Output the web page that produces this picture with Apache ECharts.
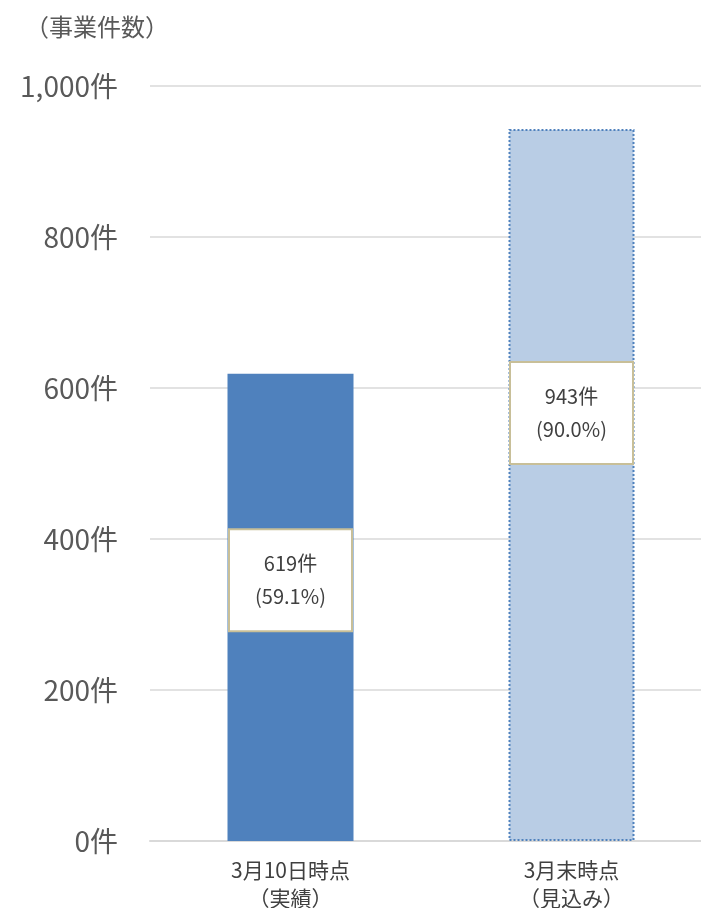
<!DOCTYPE html>
<html><head><meta charset="utf-8">
<script src="https://cdn.jsdelivr.net/npm/echarts@6/dist/echarts.min.js"></script>
<style>html,body{margin:0;padding:0;background:#fff}#c{width:701px;height:908px}</style>
</head><body><div id="c"></div>
<script>
var categories = ['3月10日時点\n（実績）', '3月末時点\n（見込み）'];
var values = [619, 943];
var percents = ['59.1%', '90.0%'];
var yTicks = [0, 200, 400, 600, 800, 1000];

var FONT = '"Noto Sans CJK JP", "Noto Sans", sans-serif';
var chart = echarts.init(document.getElementById('c'), null, {renderer: 'canvas'});
var labelOffsets = [[0, -27], [0, -72]];
var styles = [
  {color: '#4F81BD'},
  {color: '#B9CDE5', borderColor: '#4F81BD', borderWidth: 2, borderType: [2, 2]}
];
chart.setOption({
  animation: false,
  textStyle: {fontFamily: FONT},
  title: {
    text: '（事業件数）', left: 20, top: 10,
    textStyle: {fontSize: 24, fontWeight: 'normal', color: '#595959', fontFamily: FONT}
  },
  grid: {left: 150, top: 86, width: 562, height: 755, containLabel: false, outerBoundsMode: 'none'},
  xAxis: {
    type: 'category', data: categories,
    axisLine: {lineStyle: {color: '#D9D9D9', width: 2}},
    axisTick: {show: false},
    axisLabel: {color: '#404040', fontSize: 21, lineHeight: 28, margin: 15, fontFamily: FONT}
  },
  yAxis: {
    type: 'value', min: yTicks[0], max: yTicks[yTicks.length - 1], interval: 200,
    axisLine: {show: false}, axisTick: {show: false},
    splitLine: {lineStyle: {color: '#D9D9D9', width: 1.5}},
    axisLabel: {
      color: '#595959', fontSize: 28, margin: 32, fontFamily: FONT,
      formatter: function (v) { return v.toLocaleString('en-US') + '件'; }
    }
  },
  series: [{
    type: 'bar', barWidth: 126,
    data: values.map(function (v, i) {
      return {
        value: v,
        itemStyle: styles[i],
        label: {
          show: true, position: 'inside', offset: labelOffsets[i],
          formatter: v + '件\n(' + percents[i] + ')',
          color: '#404040', fontSize: 20, lineHeight: 33, fontFamily: FONT,
          backgroundColor: '#FFFFFF', borderColor: '#C8BF98', borderWidth: 2,
          width: 121, align: 'center', padding: [17, 0, 17, 0]
        }
      };
    })
  }]
});
</script></body></html>
